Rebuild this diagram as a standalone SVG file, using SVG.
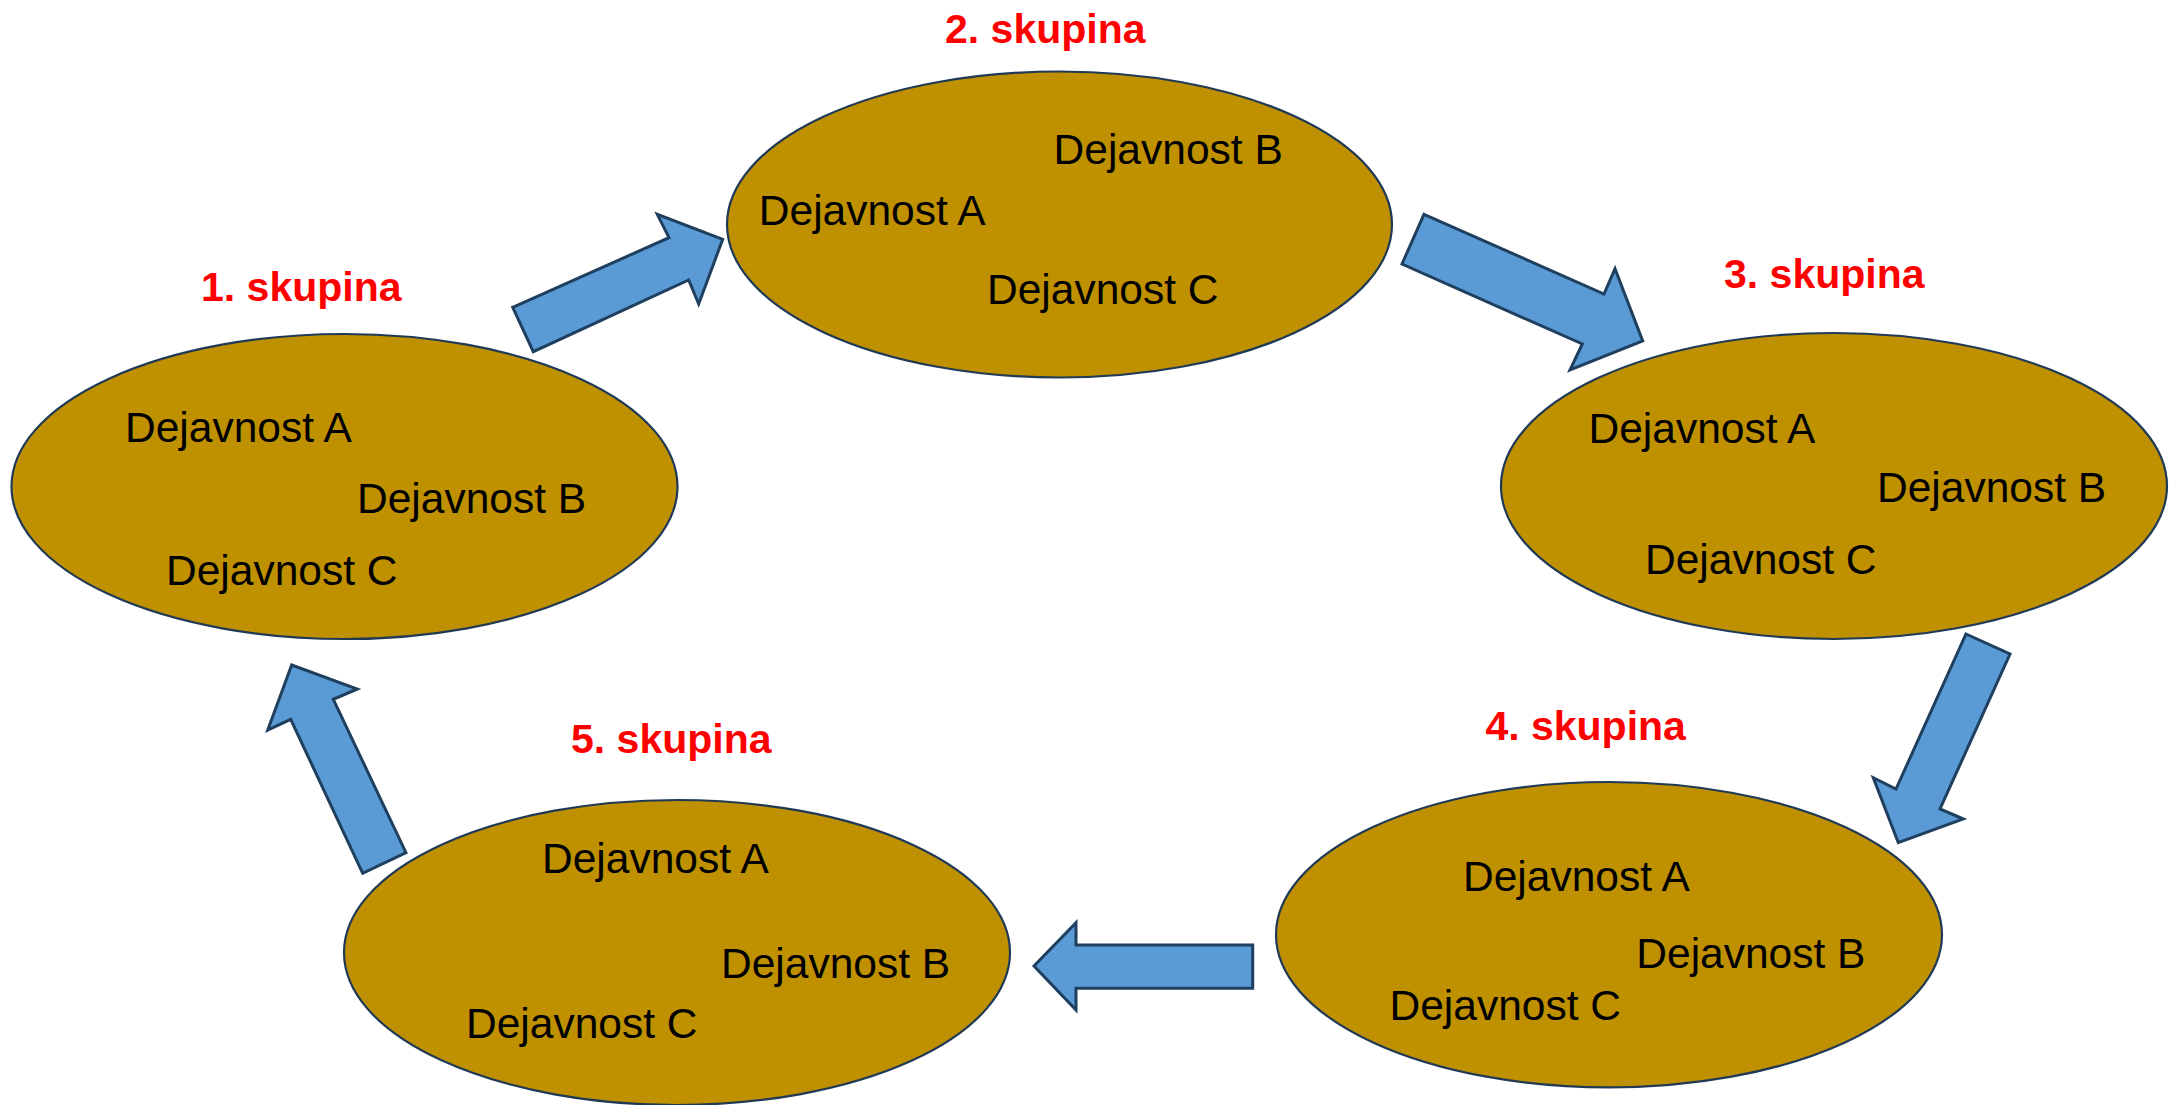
<svg xmlns="http://www.w3.org/2000/svg" width="2182" height="1105" viewBox="0 0 2182 1105">
<style>
.node ellipse{fill:#BF9000;stroke:#203A56;stroke-width:2.2}
.t{font-family:"Liberation Sans",Arial,sans-serif;font-size:42.5px;fill:#000}
.h{font-family:"Liberation Sans",Arial,sans-serif;font-size:41px;font-weight:bold;fill:#FF0000}
.arr path{fill:#5B9BD5;stroke:#1F3F5F;stroke-width:3;stroke-linejoin:miter}
</style>
<rect width="2182" height="1105" fill="#fff"/>
<g id="connectors" class="arr">
<path d="M512.7,307.3 L669,237.7 L657.3,214.3 L722.7,239.3 L698.7,304 L688.7,280 L533.3,351.7 Z"/>
<path d="M1424,214.3 L1604,294 L1615,268.7 L1642.7,341 L1570,370 L1582.3,344 L1402,264 Z"/>
<path d="M1966,634 L2010,654 L1940,809 L1963.3,819 L1898.3,842.7 L1873.3,777.7 L1896,789 Z"/>
<path d="M1252.7,945 L1252.7,988.3 L1076,988.3 L1076,1010 L1034,966 L1076,922.7 L1076,945 Z"/>
<path d="M406,852.7 L362.7,873.3 L290.7,719.3 L267.7,730 L291.7,665 L357.3,689 L333.3,699.3 Z"/>
</g>
<g id="node1" class="node">
<ellipse cx="344.5" cy="486.5" rx="333" ry="152.5"/>
<text class="h" x="201" y="300.5">1. skupina</text>
<text class="t" x="125" y="441.7">Dejavnost A</text>
<text class="t" x="357" y="513">Dejavnost B</text>
<text class="t" x="166" y="585">Dejavnost C</text>
</g>
<g id="node2" class="node">
<ellipse cx="1059.5" cy="224.5" rx="332.5" ry="153"/>
<text class="h" x="945" y="42.7">2. skupina</text>
<text class="t" x="1053.6" y="164">Dejavnost B</text>
<text class="t" x="758.8" y="225.3">Dejavnost A</text>
<text class="t" x="987" y="304">Dejavnost C</text>
</g>
<g id="node3" class="node">
<ellipse cx="1834" cy="486" rx="333" ry="153"/>
<text class="h" x="1724" y="288">3. skupina</text>
<text class="t" x="1588.5" y="442.7">Dejavnost A</text>
<text class="t" x="1877" y="501.7">Dejavnost B</text>
<text class="t" x="1645" y="574">Dejavnost C</text>
</g>
<g id="node4" class="node">
<ellipse cx="1609" cy="934.7" rx="333" ry="152.7"/>
<text class="h" x="1485.4" y="740">4. skupina</text>
<text class="t" x="1463" y="891">Dejavnost A</text>
<text class="t" x="1636.3" y="967.7">Dejavnost B</text>
<text class="t" x="1389.5" y="1020">Dejavnost C</text>
</g>
<g id="node5" class="node">
<ellipse cx="677" cy="952.5" rx="333" ry="152.5"/>
<text class="h" x="571" y="752.7">5. skupina</text>
<text class="t" x="542" y="872.7">Dejavnost A</text>
<text class="t" x="721" y="977.7">Dejavnost B</text>
<text class="t" x="466" y="1038">Dejavnost C</text>
</g>
</svg>
